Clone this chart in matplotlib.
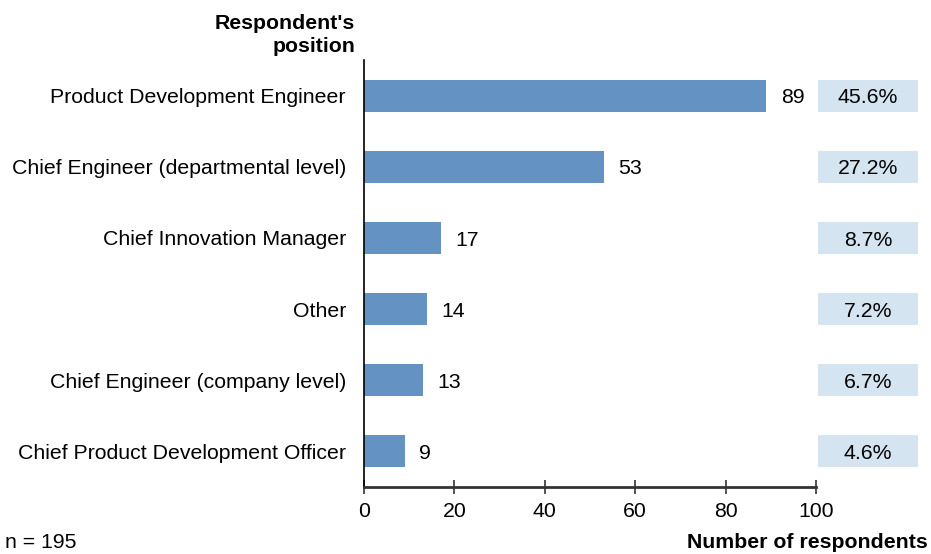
import matplotlib.pyplot as plt
from matplotlib.patches import Rectangle

plt.rcParams["font.family"] = ["Liberation Sans", "DejaVu Sans"]

positions = [
    "Product Development Engineer",
    "Chief Engineer (departmental level)",
    "Chief Innovation Manager",
    "Other",
    "Chief Engineer (company level)",
    "Chief Product Development Officer",
]
counts = [89, 53, 17, 14, 13, 9]
shares = [45.6, 27.2, 8.7, 7.2, 6.7, 4.6]
n_total = 195

bar_color = "#6492c2"
box_color = "#d5e4f1"
axis_color = "#333333"
fs = 15.3

fig = plt.figure(figsize=(9.31, 5.54), dpi=100)
ax = fig.add_axes([364 / 931, 1 - 487 / 554, (816 - 364) / 931, (487 - 60) / 554])

y = list(range(len(positions)))
ax.barh(y, counts, height=0.45, color=bar_color)
ax.set_ylim(len(positions) - 0.5, -0.5)
ax.set_xlim(0, 100)

for yi, c, s in zip(y, counts, shares):
    ax.text(c + 3.2, yi + 0.03, str(c), va="center", ha="left", fontsize=fs)
    # share boxes sit to the right of the value axis
    ax.add_patch(Rectangle((100.4, yi - 0.225), 22.2, 0.45, color=box_color,
                           clip_on=False, linewidth=0))
    ax.text(111.5, yi + 0.03, f"{s:.1f}%", va="center", ha="center", fontsize=fs)

ax.set_yticks(y)
ax.set_yticklabels(positions, fontsize=fs)
ax.tick_params(axis="y", length=0, pad=13)
ax.set_xticks([0, 20, 40, 60, 80, 100])
ax.tick_params(axis="x", direction="inout", length=9.5, width=1.2,
               color=axis_color, labelsize=fs, pad=6)

for side in ("top", "right"):
    ax.spines[side].set_visible(False)
ax.spines["left"].set_color("black")
ax.spines["left"].set_linewidth(1.2)
ax.spines["bottom"].set_color(axis_color)
ax.spines["bottom"].set_linewidth(2)

fig.text(355 / 931, 1 - 35 / 554, "Respondent's\nposition", ha="right",
         va="center", fontsize=fs, fontweight="bold", linespacing=1.25)
fig.text(5 / 931, 1 - 543 / 554, f"n = {n_total}", ha="left", va="center",
         fontsize=fs)
fig.text(928 / 931, 1 - 542 / 554, "Number of respondents", ha="right",
         va="center", fontsize=fs, fontweight="bold")

fig.savefig("out.png", dpi=100)
